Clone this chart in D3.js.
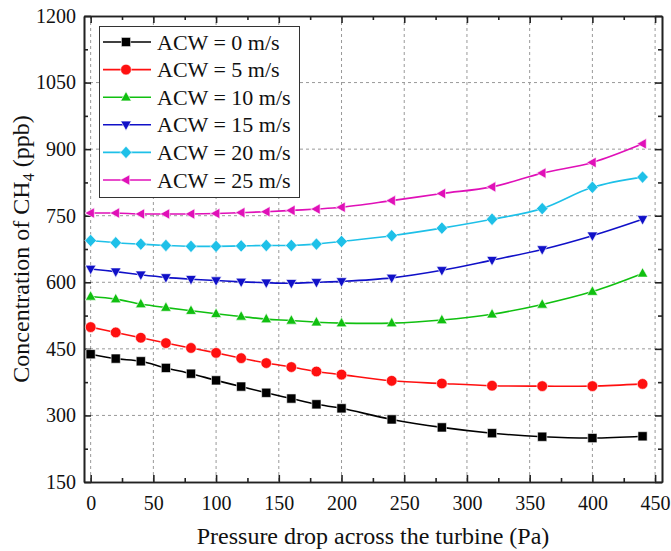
<!DOCTYPE html>
<html>
<head>
<meta charset="utf-8">
<script src="https://cdn.jsdelivr.net/npm/d3@7"></script>
<style>
  body { margin: 0; background: #fff; }
  svg text { font-family: "Times New Roman", "Liberation Serif", serif; fill: #111; }
</style>
</head>
<body>
<div id="chart"></div>
<script>
// pressure drop values (Pa)
var pressure = [0, 20, 40, 60, 80, 100, 120, 140, 160, 180, 200, 240, 280, 320, 360, 400, 440];

// CH4 concentration (ppb) for each air current velocity
var acw0  = [438, 428, 422, 407, 394, 379, 365, 351, 338, 325, 316, 291, 273, 260, 252, 249, 253];
var acw5  = [499, 487, 475, 463, 452, 441, 429, 418, 409, 399, 392, 378, 372, 367, 366, 366, 371];
var acw10 = [568, 562, 551, 543, 536, 529, 523, 517, 514, 510, 508, 508, 515, 528, 550, 579, 620];
var acw15 = [630, 624, 617, 611, 607, 604, 601, 599, 598, 600, 602, 610, 627, 650, 674, 705, 742];
var acw20 = [694, 689, 686, 683, 681, 681, 682, 683, 683, 686, 692, 705, 722, 742, 766, 814, 837];
var acw25 = [756, 756, 754, 754, 754, 755, 757, 759, 762, 765, 769, 784, 800, 815, 846, 870, 912];

var seriesNames = ["ACW = 0 m/s", "ACW = 5 m/s", "ACW = 10 m/s", "ACW = 15 m/s", "ACW = 20 m/s", "ACW = 25 m/s"];
var seriesColors = ["#000000", "#ff1010", "#10c010", "#1010c8", "#1ec0e8", "#e010b8"];
var seriesShapes = ["square", "circle", "triangleUp", "triangleDown", "diamond", "triangleLeft"];
var seriesValues = [acw0, acw5, acw10, acw15, acw20, acw25];

var xTicks = [0, 50, 100, 150, 200, 250, 300, 350, 400, 450];
var yTicks = [150, 300, 450, 600, 750, 900, 1050, 1200];

var width = 671;
var height = 551;
var plotLeft = 84, plotRight = 662, plotTop = 16, plotBottom = 482;

var x = d3.scaleLinear().domain([-5.3, 455.5]).range([plotLeft, plotRight]);
var y = d3.scaleLinear().domain([150, 1200]).range([plotBottom, plotTop]);

var svg = d3.select("#chart").append("svg")
    .attr("width", width)
    .attr("height", height);

// dashed grid at the major ticks
var grid = svg.append("g");
grid.selectAll("line.vx")
    .data(xTicks)
    .enter().append("line")
    .attr("x1", function(d) { return x(d); })
    .attr("x2", function(d) { return x(d); })
    .attr("y1", plotTop)
    .attr("y2", plotBottom)
    .attr("stroke", "#999")
    .attr("stroke-width", 1)
    .attr("stroke-dasharray", "3,3");
grid.selectAll("line.hy")
    .data(yTicks.slice(1, -1))
    .enter().append("line")
    .attr("x1", plotLeft)
    .attr("x2", plotRight)
    .attr("y1", function(d) { return y(d); })
    .attr("y2", function(d) { return y(d); })
    .attr("stroke", "#999")
    .attr("stroke-width", 1)
    .attr("stroke-dasharray", "3,3");

// minor ticks sit halfway between the majors
function halfway(major) {
  var minor = [];
  for (var i = 0; i < major.length - 1; i++) minor.push((major[i] + major[i + 1]) / 2);
  return minor;
}
var xMinor = halfway(xTicks);
var yMinor = halfway(yTicks);
var plain = d3.format("d");

// axes with inward ticks on all four sides
var bottomAxis = d3.axisBottom(x).tickValues(xTicks).tickFormat(plain).tickSizeInner(-7).tickSizeOuter(0).tickPadding(14);
var bottomMinor = d3.axisBottom(x).tickValues(xMinor).tickSizeInner(-4).tickSizeOuter(0).tickFormat("");
var topAxis = d3.axisTop(x).tickValues(xTicks).tickSizeInner(-7).tickSizeOuter(0).tickFormat("");
var topMinor = d3.axisTop(x).tickValues(xMinor).tickSizeInner(-4).tickSizeOuter(0).tickFormat("");
var leftAxis = d3.axisLeft(y).tickValues(yTicks).tickFormat(plain).tickSizeInner(-7).tickSizeOuter(0).tickPadding(8);
var leftMinor = d3.axisLeft(y).tickValues(yMinor).tickSizeInner(-4).tickSizeOuter(0).tickFormat("");
var rightAxis = d3.axisRight(y).tickValues(yTicks).tickSizeInner(-7).tickSizeOuter(0).tickFormat("");
var rightMinor = d3.axisRight(y).tickValues(yMinor).tickSizeInner(-4).tickSizeOuter(0).tickFormat("");

function styleAxis(g) {
  g.attr("font-family", null);
  g.selectAll("path").attr("stroke", "#222").attr("stroke-width", 1.6);
  g.selectAll("line").attr("stroke", "#222").attr("stroke-width", 1.6);
  g.selectAll("text").style("font-size", "20px").attr("fill", "#111");
}

svg.append("g").attr("transform", "translate(0," + plotBottom + ")").call(bottomAxis).call(styleAxis);
svg.append("g").attr("transform", "translate(0," + plotBottom + ")").call(bottomMinor).call(styleAxis);
svg.append("g").attr("transform", "translate(0," + plotTop + ")").call(topAxis).call(styleAxis);
svg.append("g").attr("transform", "translate(0," + plotTop + ")").call(topMinor).call(styleAxis);
svg.append("g").attr("transform", "translate(" + plotLeft + ",0)").call(leftAxis).call(styleAxis);
svg.append("g").attr("transform", "translate(" + plotLeft + ",0)").call(leftMinor).call(styleAxis);
svg.append("g").attr("transform", "translate(" + plotRight + ",0)").call(rightAxis).call(styleAxis);
svg.append("g").attr("transform", "translate(" + plotRight + ",0)").call(rightMinor).call(styleAxis);

// marker shapes
function markerPath(shape, s) {
  if (shape === "square") return "M" + (-s) + "," + (-s) + "h" + 2 * s + "v" + 2 * s + "h" + (-2 * s) + "Z";
  if (shape === "circle") return d3.symbol().type(d3.symbolCircle).size(Math.PI * s * s * 1.35)();
  if (shape === "triangleUp") return "M0," + (-s * 1.25) + "L" + (s * 1.15) + "," + (s * 0.8) + "L" + (-s * 1.15) + "," + (s * 0.8) + "Z";
  if (shape === "triangleDown") return "M0," + (s * 1.25) + "L" + (s * 1.15) + "," + (-s * 0.8) + "L" + (-s * 1.15) + "," + (-s * 0.8) + "Z";
  if (shape === "triangleLeft") return "M" + (-s * 1.25) + ",0L" + (s * 0.8) + "," + (-s * 1.15) + "L" + (s * 0.8) + "," + (s * 1.15) + "Z";
  if (shape === "diamond") return "M0," + (-s * 1.35) + "L" + (s * 1.25) + ",0L0," + (s * 1.35) + "L" + (-s * 1.25) + ",0Z";
}

var line = d3.line()
    .x(function(d) { return x(d.p); })
    .y(function(d) { return y(d.v); })
    .curve(d3.curveCatmullRom.alpha(0.5));

var plot = svg.append("g");
seriesValues.forEach(function(vals, i) {
  var pts = pressure.map(function(p, j) { return { p: p, v: vals[j] }; });
  plot.append("path")
    .datum(pts)
    .attr("d", line)
    .attr("fill", "none")
    .attr("stroke", seriesColors[i])
    .attr("stroke-width", 1.6);
  plot.selectAll("path.m" + i)
    .data(pts)
    .enter().append("path")
    .attr("class", "m" + i)
    .attr("d", markerPath(seriesShapes[i], 4.6))
    .attr("transform", function(d) { return "translate(" + x(d.p) + "," + y(d.v) + ")"; })
    .attr("fill", seriesColors[i])
    .attr("stroke", "#fff")
    .attr("stroke-width", 0.6);
});

// legend
var legend = svg.append("g");
legend.append("rect")
    .attr("x", 99.5)
    .attr("y", 26.5)
    .attr("width", 200)
    .attr("height", 171)
    .attr("fill", "#fff")
    .attr("stroke", "#333")
    .attr("stroke-width", 1);
seriesNames.forEach(function(name, i) {
  var ly = 42 + i * 27.6;
  legend.append("line")
    .attr("x1", 103).attr("x2", 151)
    .attr("y1", ly).attr("y2", ly)
    .attr("stroke", seriesColors[i])
    .attr("stroke-width", 1.6);
  legend.append("path")
    .attr("d", markerPath(seriesShapes[i], 4.6))
    .attr("transform", "translate(126," + ly + ")")
    .attr("fill", seriesColors[i])
    .attr("stroke", "#fff")
    .attr("stroke-width", 0.6);
  legend.append("text")
    .attr("x", 157)
    .attr("y", ly + 7.5)
    .style("font-size", "22px")
    .text(name);
});

// axis titles
svg.append("text")
    .attr("x", (plotLeft + plotRight) / 2)
    .attr("y", 544)
    .attr("text-anchor", "middle")
    .style("font-size", "24px")
    .text("Pressure drop across the turbine (Pa)");

var yTitle = svg.append("text")
    .attr("transform", "translate(29," + ((plotTop + plotBottom) / 2) + ")rotate(-90)")
    .attr("text-anchor", "middle")
    .style("font-size", "24px");
yTitle.append("tspan").text("Concentration of CH");
yTitle.append("tspan").attr("dy", 5).style("font-size", "16px").text("4");
yTitle.append("tspan").attr("dy", -5).text(" (ppb)");
</script>
</body>
</html>
